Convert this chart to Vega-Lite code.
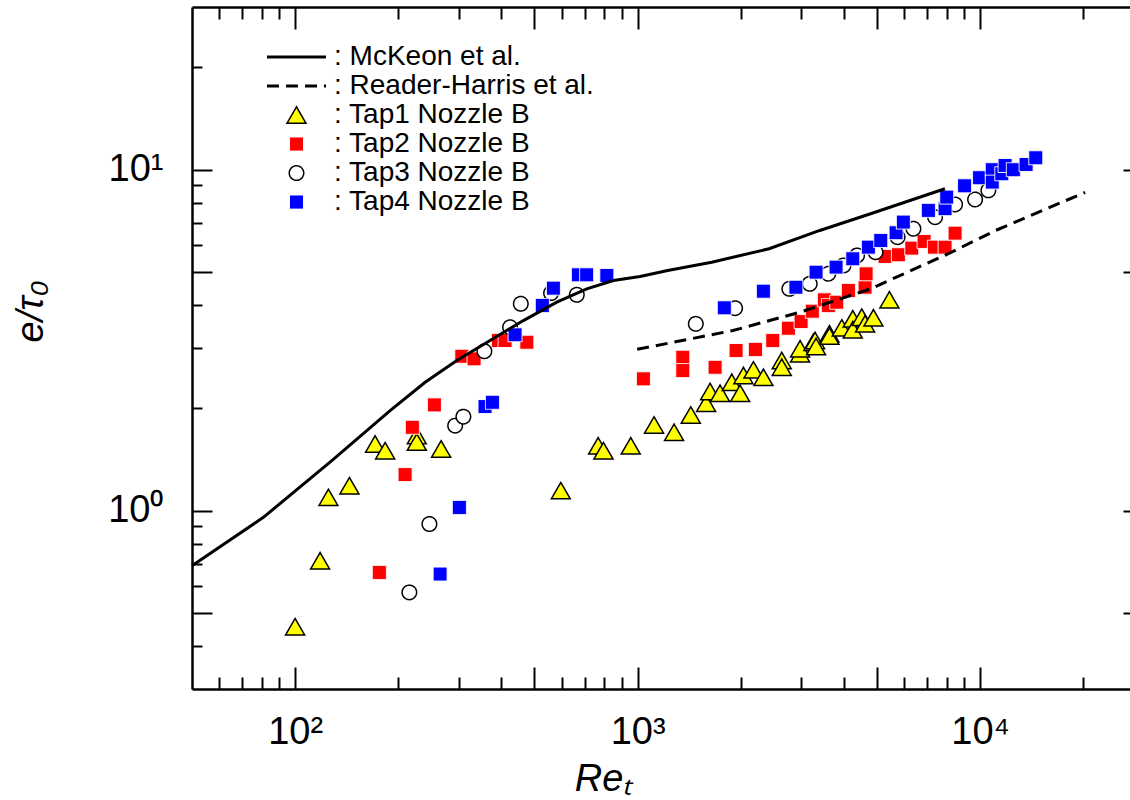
{
  "$schema": "https://vega.github.io/schema/vega-lite/v6.json",
  "autosize": {"type": "none"},
  "padding": {"left": 192, "top": 7, "right": 0, "bottom": 111},
  "width": 938,
  "height": 682,
  "background": "white",
  "config": {"view": {"stroke": null}, "font": "Liberation Sans"},
  "datasets": {
    "points": [
      {"series": "Tap1 Nozzle B", "Re": 100, "e": 0.457},
      {"series": "Tap1 Nozzle B", "Re": 118.3, "e": 0.713},
      {"series": "Tap1 Nozzle B", "Re": 125.1, "e": 1.094},
      {"series": "Tap1 Nozzle B", "Re": 144.1, "e": 1.184},
      {"series": "Tap1 Nozzle B", "Re": 171.2, "e": 1.569},
      {"series": "Tap1 Nozzle B", "Re": 183.2, "e": 1.5},
      {"series": "Tap1 Nozzle B", "Re": 226.6, "e": 1.66},
      {"series": "Tap1 Nozzle B", "Re": 226.6, "e": 1.59},
      {"series": "Tap1 Nozzle B", "Re": 266.9, "e": 1.517},
      {"series": "Tap1 Nozzle B", "Re": 596.8, "e": 1.145},
      {"series": "Tap1 Nozzle B", "Re": 767, "e": 1.55},
      {"series": "Tap1 Nozzle B", "Re": 795, "e": 1.5},
      {"series": "Tap1 Nozzle B", "Re": 955, "e": 1.55},
      {"series": "Tap1 Nozzle B", "Re": 1117, "e": 1.784},
      {"series": "Tap1 Nozzle B", "Re": 1278, "e": 1.698},
      {"series": "Tap1 Nozzle B", "Re": 1430, "e": 1.909},
      {"series": "Tap1 Nozzle B", "Re": 1585, "e": 2.065},
      {"series": "Tap1 Nozzle B", "Re": 1628, "e": 2.235},
      {"series": "Tap1 Nozzle B", "Re": 1741, "e": 2.21},
      {"series": "Tap1 Nozzle B", "Re": 1884, "e": 2.38},
      {"series": "Tap1 Nozzle B", "Re": 1992, "e": 2.21},
      {"series": "Tap1 Nozzle B", "Re": 2037, "e": 2.49},
      {"series": "Tap1 Nozzle B", "Re": 2179, "e": 2.588},
      {"series": "Tap1 Nozzle B", "Re": 2330, "e": 2.462},
      {"series": "Tap1 Nozzle B", "Re": 2636, "e": 2.756},
      {"series": "Tap1 Nozzle B", "Re": 2636, "e": 2.634},
      {"series": "Tap1 Nozzle B", "Re": 2982, "e": 2.884},
      {"series": "Tap1 Nozzle B", "Re": 2982, "e": 2.983},
      {"series": "Tap1 Nozzle B", "Re": 3261, "e": 3.119},
      {"series": "Tap1 Nozzle B", "Re": 3298, "e": 3.155},
      {"series": "Tap1 Nozzle B", "Re": 3320, "e": 3.03},
      {"series": "Tap1 Nozzle B", "Re": 3632, "e": 3.302},
      {"series": "Tap1 Nozzle B", "Re": 3632, "e": 3.25},
      {"series": "Tap1 Nozzle B", "Re": 3948, "e": 3.437},
      {"series": "Tap1 Nozzle B", "Re": 4249, "e": 3.653},
      {"series": "Tap1 Nozzle B", "Re": 4249, "e": 3.392},
      {"series": "Tap1 Nozzle B", "Re": 4514, "e": 3.694},
      {"series": "Tap1 Nozzle B", "Re": 4616, "e": 3.532},
      {"series": "Tap1 Nozzle B", "Re": 4882, "e": 3.678},
      {"series": "Tap1 Nozzle B", "Re": 5436, "e": 4.153},
      {"series": "Tap2 Nozzle B", "Re": 176.2, "e": 0.659},
      {"series": "Tap2 Nozzle B", "Re": 209.5, "e": 1.276},
      {"series": "Tap2 Nozzle B", "Re": 220, "e": 1.756},
      {"series": "Tap2 Nozzle B", "Re": 255.1, "e": 2.043},
      {"series": "Tap2 Nozzle B", "Re": 306.7, "e": 2.837},
      {"series": "Tap2 Nozzle B", "Re": 333.1, "e": 2.788},
      {"series": "Tap2 Nozzle B", "Re": 392.4, "e": 3.155},
      {"series": "Tap2 Nozzle B", "Re": 410.3, "e": 3.155},
      {"series": "Tap2 Nozzle B", "Re": 474.9, "e": 3.119},
      {"series": "Tap2 Nozzle B", "Re": 1040, "e": 2.436},
      {"series": "Tap2 Nozzle B", "Re": 1355, "e": 2.818},
      {"series": "Tap2 Nozzle B", "Re": 1355, "e": 2.576},
      {"series": "Tap2 Nozzle B", "Re": 1684, "e": 2.634},
      {"series": "Tap2 Nozzle B", "Re": 1939, "e": 2.949},
      {"series": "Tap2 Nozzle B", "Re": 2209, "e": 2.97},
      {"series": "Tap2 Nozzle B", "Re": 2481, "e": 3.155},
      {"series": "Tap2 Nozzle B", "Re": 2757, "e": 3.428},
      {"series": "Tap2 Nozzle B", "Re": 3002, "e": 3.586},
      {"series": "Tap2 Nozzle B", "Re": 3238, "e": 3.846},
      {"series": "Tap2 Nozzle B", "Re": 3512, "e": 4.153},
      {"series": "Tap2 Nozzle B", "Re": 3607, "e": 3.998},
      {"series": "Tap2 Nozzle B", "Re": 3815, "e": 4.087},
      {"series": "Tap2 Nozzle B", "Re": 4127, "e": 4.423},
      {"series": "Tap2 Nozzle B", "Re": 4616, "e": 4.522},
      {"series": "Tap2 Nozzle B", "Re": 4648, "e": 4.95},
      {"series": "Tap2 Nozzle B", "Re": 5280, "e": 5.567},
      {"series": "Tap2 Nozzle B", "Re": 5775, "e": 5.631},
      {"series": "Tap2 Nozzle B", "Re": 6318, "e": 5.888},
      {"series": "Tap2 Nozzle B", "Re": 6864, "e": 6.16},
      {"series": "Tap2 Nozzle B", "Re": 7356, "e": 5.927},
      {"series": "Tap2 Nozzle B", "Re": 7903, "e": 5.927},
      {"series": "Tap2 Nozzle B", "Re": 8453, "e": 6.515},
      {"series": "Tap3 Nozzle B", "Re": 215.6, "e": 0.576},
      {"series": "Tap3 Nozzle B", "Re": 246.7, "e": 0.914},
      {"series": "Tap3 Nozzle B", "Re": 293.3, "e": 1.776},
      {"series": "Tap3 Nozzle B", "Re": 310, "e": 1.887},
      {"series": "Tap3 Nozzle B", "Re": 357, "e": 2.935},
      {"series": "Tap3 Nozzle B", "Re": 424.3, "e": 3.451},
      {"series": "Tap3 Nozzle B", "Re": 456, "e": 4.044},
      {"series": "Tap3 Nozzle B", "Re": 558.9, "e": 4.346},
      {"series": "Tap3 Nozzle B", "Re": 664.5, "e": 4.297},
      {"series": "Tap3 Nozzle B", "Re": 1479, "e": 3.532},
      {"series": "Tap3 Nozzle B", "Re": 1926, "e": 3.926},
      {"series": "Tap3 Nozzle B", "Re": 2774, "e": 4.474},
      {"series": "Tap3 Nozzle B", "Re": 3181, "e": 4.628},
      {"series": "Tap3 Nozzle B", "Re": 3604, "e": 4.953},
      {"series": "Tap3 Nozzle B", "Re": 3993, "e": 5.238},
      {"series": "Tap3 Nozzle B", "Re": 4374, "e": 5.604},
      {"series": "Tap3 Nozzle B", "Re": 4953, "e": 5.73},
      {"series": "Tap3 Nozzle B", "Re": 5742, "e": 6.342},
      {"series": "Tap3 Nozzle B", "Re": 6388, "e": 6.712},
      {"series": "Tap3 Nozzle B", "Re": 7390, "e": 7.258},
      {"series": "Tap3 Nozzle B", "Re": 8453, "e": 7.909},
      {"series": "Tap3 Nozzle B", "Re": 9670, "e": 8.178},
      {"series": "Tap3 Nozzle B", "Re": 10573, "e": 8.697},
      {"series": "Tap4 Nozzle B", "Re": 265.1, "e": 0.652},
      {"series": "Tap4 Nozzle B", "Re": 301.8, "e": 1.022},
      {"series": "Tap4 Nozzle B", "Re": 358.6, "e": 2.02},
      {"series": "Tap4 Nozzle B", "Re": 376.9, "e": 2.079},
      {"series": "Tap4 Nozzle B", "Re": 438.8, "e": 3.28},
      {"series": "Tap4 Nozzle B", "Re": 527.2, "e": 3.998},
      {"series": "Tap4 Nozzle B", "Re": 567.8, "e": 4.493},
      {"series": "Tap4 Nozzle B", "Re": 671.8, "e": 4.918},
      {"series": "Tap4 Nozzle B", "Re": 710, "e": 4.918},
      {"series": "Tap4 Nozzle B", "Re": 813.2, "e": 4.895},
      {"series": "Tap4 Nozzle B", "Re": 1792, "e": 3.936},
      {"series": "Tap4 Nozzle B", "Re": 2330, "e": 4.402},
      {"series": "Tap4 Nozzle B", "Re": 2899, "e": 4.522},
      {"series": "Tap4 Nozzle B", "Re": 3320, "e": 5.006},
      {"series": "Tap4 Nozzle B", "Re": 3798, "e": 5.18},
      {"series": "Tap4 Nozzle B", "Re": 4249, "e": 5.48},
      {"series": "Tap4 Nozzle B", "Re": 4720, "e": 5.927},
      {"series": "Tap4 Nozzle B", "Re": 5129, "e": 6.2},
      {"series": "Tap4 Nozzle B", "Re": 5686, "e": 6.533},
      {"series": "Tap4 Nozzle B", "Re": 5970, "e": 7.02},
      {"series": "Tap4 Nozzle B", "Re": 7066, "e": 7.596},
      {"series": "Tap4 Nozzle B", "Re": 7903, "e": 7.684},
      {"series": "Tap4 Nozzle B", "Re": 7992, "e": 8.31},
      {"series": "Tap4 Nozzle B", "Re": 9010, "e": 8.97},
      {"series": "Tap4 Nozzle B", "Re": 9966, "e": 9.474},
      {"series": "Tap4 Nozzle B", "Re": 10855, "e": 10.0},
      {"series": "Tap4 Nozzle B", "Re": 10855, "e": 9.196},
      {"series": "Tap4 Nozzle B", "Re": 11570, "e": 9.73},
      {"series": "Tap4 Nozzle B", "Re": 11830, "e": 10.29},
      {"series": "Tap4 Nozzle B", "Re": 12510, "e": 10.0},
      {"series": "Tap4 Nozzle B", "Re": 13626, "e": 10.36},
      {"series": "Tap4 Nozzle B", "Re": 14540, "e": 10.84}
    ],
    "curves": [
      {"series": "McKeon et al.", "Re": 50, "e": 0.69},
      {"series": "McKeon et al.", "Re": 80.8, "e": 0.956},
      {"series": "McKeon et al.", "Re": 128, "e": 1.402},
      {"series": "McKeon et al.", "Re": 189.4, "e": 1.966},
      {"series": "McKeon et al.", "Re": 239.7, "e": 2.38},
      {"series": "McKeon et al.", "Re": 296.6, "e": 2.756},
      {"series": "McKeon et al.", "Re": 370.9, "e": 3.155},
      {"series": "McKeon et al.", "Re": 464, "e": 3.61},
      {"series": "McKeon et al.", "Re": 580.8, "e": 4.087},
      {"series": "McKeon et al.", "Re": 710.6, "e": 4.474},
      {"series": "McKeon et al.", "Re": 849.9, "e": 4.733},
      {"series": "McKeon et al.", "Re": 1017, "e": 4.862},
      {"series": "McKeon et al.", "Re": 1224, "e": 5.063},
      {"series": "McKeon et al.", "Re": 1646, "e": 5.355},
      {"series": "McKeon et al.", "Re": 2421, "e": 5.864},
      {"series": "McKeon et al.", "Re": 3404, "e": 6.635},
      {"series": "McKeon et al.", "Re": 4789, "e": 7.428},
      {"series": "McKeon et al.", "Re": 7894, "e": 8.795},
      {"series": "Reader-Harris et al.", "Re": 997, "e": 2.974},
      {"series": "Reader-Harris et al.", "Re": 1302, "e": 3.133},
      {"series": "Reader-Harris et al.", "Re": 1900, "e": 3.376},
      {"series": "Reader-Harris et al.", "Re": 2982, "e": 3.82},
      {"series": "Reader-Harris et al.", "Re": 4789, "e": 4.474},
      {"series": "Reader-Harris et al.", "Re": 8077, "e": 5.67},
      {"series": "Reader-Harris et al.", "Re": 11100, "e": 6.635},
      {"series": "Reader-Harris et al.", "Re": 20260, "e": 8.58}
    ]
  },
  "layer": [
    {
      "data": {"name": "points"},
      "mark": {"type": "point", "filled": true, "opacity": 1},
      "encoding": {
        "x": {
          "field": "Re", "type": "quantitative",
          "scale": {"type": "log", "domain": [50, 27400], "nice": false},
          "axis": {
            "orient": "bottom",
            "values": [60, 70, 80, 90, 100, 200, 300, 400, 500, 600, 700, 800, 900, 1000, 2000, 3000, 4000, 5000, 6000, 7000, 8000, 9000, 10000, 20000],
            "labelExpr": "datum.value == 100 ? '10²' : datum.value == 1000 ? '10³' : datum.value == 10000 ? '10⁴' : ''",
            "labelFont": "Liberation Sans", "labelFontSize": 38, "labelColor": "black",
            "labelBaseline": "alphabetic", "labelPadding": 76, "labelDx": 6, "labelFlush": false, "labelOverlap": false,
            "ticks": true,
            "tickSize": {"condition": {"test": "indexof([100,500,1000,5000,10000], datum.value) >= 0", "value": -22}, "value": -12},
            "tickColor": "black", "tickWidth": 2,
            "domainColor": "black", "domainWidth": 2.5, "grid": false,
            "title": "Reₜ", "titleFont": "Liberation Sans", "titleFontSize": 38, "titleFontStyle": "italic", "titleFontWeight": "normal", "titleColor": "black",
            "titleX": 411, "titleY": 101, "titleAlign": "center", "titleBaseline": "alphabetic"
          }
        },
        "y": {
          "field": "e", "type": "quantitative",
          "scale": {"type": "log", "domain": [0.3, 30], "nice": false},
          "axis": {
            "orient": "left",
            "values": [0.4, 0.5, 0.6, 0.7, 0.8, 0.9, 1, 2, 3, 4, 5, 6, 7, 8, 9, 10, 20],
            "labelExpr": "datum.value == 1 ? '10⁰' : datum.value == 10 ? '10¹' : ''",
            "labelFont": "Liberation Sans", "labelFontSize": 38, "labelColor": "black",
            "labelAlign": "right", "labelBaseline": "middle", "labelPadding": 49, "labelFlush": false, "labelOverlap": false,
            "ticks": true,
            "tickSize": {"condition": {"test": "indexof([0.5,1,5,10], datum.value) >= 0", "value": -20}, "value": -10},
            "tickColor": "black", "tickWidth": 2,
            "domainColor": "black", "domainWidth": 2.5, "grid": false,
            "title": "e/τ₀", "titleFont": "Liberation Sans", "titleFontSize": 38, "titleFontStyle": "italic", "titleFontWeight": "normal", "titleColor": "black",
            "titleAngle": 270, "titleX": -150, "titleY": 304, "titleAlign": "center", "titleBaseline": "alphabetic"
          }
        },
        "shape": {
          "field": "series", "type": "nominal",
          "scale": {"type": "ordinal", "domain": ["McKeon et al.", "Reader-Harris et al.", "Tap1 Nozzle B", "Tap2 Nozzle B", "Tap3 Nozzle B", "Tap4 Nozzle B"],
                    "range": ["M-1,0H1", "M-1,0H1", "triangle-up", "square", "circle", "square"]},
          "legend": {
            "title": null, "orient": "none", "legendX": 73.5, "legendY": 35.7, "columns": 1,
            "clipHeight": 28.7, "rowPadding": 0, "padding": 0,
            "labelFont": "Liberation Sans", "labelFontSize": 28, "labelColor": "black", "labelOffset": 6.5, "labelLimit": 600,
            "labelExpr": "': ' + datum.label", "symbolOpacity": 1
          }
        },
        "fill": {
          "field": "series", "type": "nominal",
          "scale": {"type": "ordinal", "domain": ["McKeon et al.", "Reader-Harris et al.", "Tap1 Nozzle B", "Tap2 Nozzle B", "Tap3 Nozzle B", "Tap4 Nozzle B"],
                    "range": ["transparent", "transparent", "#ffff00", "#ff0000", "#ffffff", "#0000ff"]}
        },
        "stroke": {
          "field": "series", "type": "nominal",
          "scale": {"type": "ordinal", "domain": ["McKeon et al.", "Reader-Harris et al.", "Tap1 Nozzle B", "Tap2 Nozzle B", "Tap3 Nozzle B", "Tap4 Nozzle B"],
                    "range": ["#000000", "#000000", "#000000", "#ffffff", "#000000", "#ffffff"]}
        },
        "size": {
          "field": "series", "type": "nominal",
          "scale": {"type": "ordinal", "domain": ["McKeon et al.", "Reader-Harris et al.", "Tap1 Nozzle B", "Tap2 Nozzle B", "Tap3 Nozzle B", "Tap4 Nozzle B"],
                    "range": [3481, 3481, 361, 196, 210, 196]}
        },
        "strokeWidth": {
          "field": "series", "type": "nominal",
          "scale": {"type": "ordinal", "domain": ["McKeon et al.", "Reader-Harris et al.", "Tap1 Nozzle B", "Tap2 Nozzle B", "Tap3 Nozzle B", "Tap4 Nozzle B"],
                    "range": [3, 3, 1.5, 1, 1.5, 1]}
        },
        "strokeDash": {
          "field": "series", "type": "nominal",
          "scale": {"type": "ordinal", "domain": ["McKeon et al.", "Reader-Harris et al.", "Tap1 Nozzle B", "Tap2 Nozzle B", "Tap3 Nozzle B", "Tap4 Nozzle B"],
                    "range": [[1, 0], [12, 7], [1, 0], [1, 0], [1, 0], [1, 0]]}
        }
      }
    },
    {
      "data": {"name": "curves"},
      "transform": [{"filter": "datum.series === 'McKeon et al.'"}],
      "mark": {"type": "line", "color": "black", "strokeWidth": 3},
      "encoding": {
        "x": {
          "field": "Re", "type": "quantitative",
          "scale": {"type": "log", "domain": [50, 27400], "nice": false},
          "axis": {
            "orient": "top",
            "values": [60, 70, 80, 90, 100, 200, 300, 400, 500, 600, 700, 800, 900, 1000, 2000, 3000, 4000, 5000, 6000, 7000, 8000, 9000, 10000, 20000],
            "labels": false, "title": null,
            "ticks": true,
            "tickSize": {"condition": {"test": "indexof([100,500,1000,5000,10000], datum.value) >= 0", "value": -22}, "value": -12},
            "tickColor": "black", "tickWidth": 2,
            "domainColor": "black", "domainWidth": 2.5, "grid": false
          }
        },
        "y": {
          "field": "e", "type": "quantitative",
          "scale": {"type": "log", "domain": [0.3, 30], "nice": false},
          "axis": null
        }
      }
    },
    {
      "data": {"name": "curves"},
      "transform": [{"filter": "datum.series === 'Reader-Harris et al.'"}],
      "mark": {"type": "line", "color": "black", "strokeWidth": 3, "strokeDash": [12, 7]},
      "encoding": {
        "x": {
          "field": "Re", "type": "quantitative",
          "scale": {"type": "log", "domain": [50, 27400], "nice": false},
          "axis": null
        },
        "y": {
          "field": "e", "type": "quantitative",
          "scale": {"type": "log", "domain": [0.3, 30], "nice": false},
          "axis": {
            "orient": "right",
            "values": [0.5, 1, 5, 10],
            "labels": false, "title": null, "domain": false,
            "ticks": true, "tickSize": -7, "tickColor": "black", "tickWidth": 2, "grid": false
          }
        }
      }
    }
  ],
  "resolve": {"axis": {"x": "independent", "y": "independent"}}
}
